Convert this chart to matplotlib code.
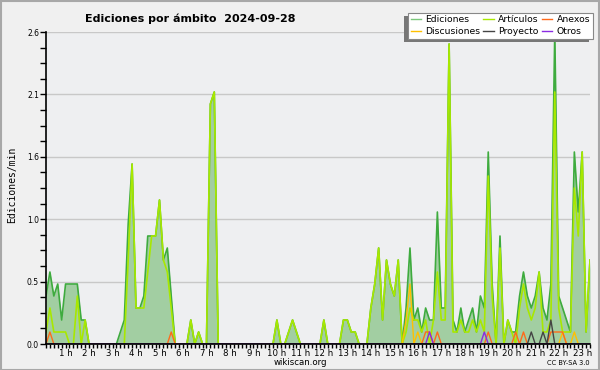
import numpy as np
import matplotlib
matplotlib.use("Agg")
import matplotlib.pyplot as plt
from matplotlib.lines import Line2D
from matplotlib.patches import Rectangle

# 10-minute bins, plotted at bin end (0:10 ... 23:20)
n_bins = 140
hour_labels = [f"{h} h" for h in range(1, 24)]
ytick_vals = [0.0, 0.52, 1.04, 1.56, 2.08, 2.6]
ytick_labels = ["0.0", "0.5", "1.0", "1.6", "2.1", "2.6"]

ediciones = [
    0.4, 0.6, 0.4, 0.5, 0.2, 0.5, 0.5, 0.5, 0.5, 0.2,
    0.2, 0, 0, 0, 0, 0, 0, 0, 0, 0.1,
    0.2, 1.0, 1.5, 0.3, 0.3, 0.4, 0.9, 0.9, 0.9, 1.2,
    0.7, 0.8, 0.4, 0, 0, 0, 0, 0.2, 0, 0.1,
    0, 0, 2.0, 2.1, 0, 0, 0, 0, 0, 0,
    0, 0, 0, 0, 0, 0, 0, 0, 0, 0.2,
    0, 0, 0.1, 0.2, 0.1, 0, 0, 0, 0, 0,
    0, 0.2, 0, 0, 0, 0, 0.2, 0.2, 0.1, 0.1,
    0, 0, 0, 0.3, 0.5, 0.8, 0.2, 0.7, 0.5, 0.4,
    0.7, 0, 0.3, 0.8, 0.2, 0.3, 0.1, 0.3, 0.2, 0.2,
    1.1, 0.3, 0.3, 2.5, 0.2, 0.1, 0.3, 0.1, 0.2, 0.3,
    0.1, 0.4, 0.3, 1.6, 0.5, 0, 0.9, 0, 0.2, 0.1,
    0.1, 0.4, 0.6, 0.4, 0.3, 0.4, 0.6, 0.3, 0.2, 0.5,
    2.6, 0.4, 0.3, 0.2, 0.1, 1.6, 1.1, 1.6, 0.1, 0.7,
]

articulos = [
    0.1, 0.3, 0.1, 0.1, 0.1, 0.1, 0, 0, 0.4, 0,
    0.2, 0, 0, 0, 0, 0, 0, 0, 0, 0,
    0, 0.7, 1.5, 0.3, 0.3, 0.3, 0.6, 0.9, 0.9, 1.2,
    0.7, 0.6, 0.3, 0, 0, 0, 0, 0.2, 0, 0.1,
    0, 0, 2.0, 2.1, 0, 0, 0, 0, 0, 0,
    0, 0, 0, 0, 0, 0, 0, 0, 0, 0.2,
    0, 0, 0.1, 0.2, 0.1, 0, 0, 0, 0, 0,
    0, 0.2, 0, 0, 0, 0, 0.2, 0.2, 0.1, 0.1,
    0, 0, 0, 0.3, 0.5, 0.8, 0.2, 0.7, 0.5, 0.4,
    0.7, 0, 0.1, 0.3, 0.2, 0.2, 0.1, 0.2, 0, 0.2,
    0.6, 0.2, 0.2, 2.5, 0.1, 0.1, 0.2, 0.1, 0.1, 0.2,
    0.1, 0.2, 0.1, 1.4, 0.4, 0, 0.8, 0, 0.2, 0.1,
    0, 0.3, 0.5, 0.3, 0.2, 0.3, 0.6, 0.1, 0.1, 0.2,
    2.1, 0.3, 0.1, 0.1, 0.1, 1.3, 0.9, 1.6, 0.1, 0.7,
]

# sparse series: bin index -> value
anexos_idx = [1, 32, 97, 98, 100, 113, 120, 122, 129, 130, 131, 132]
anexos_val = [0.1, 0.1, 0.1, 0.1, 0.1, 0.1, 0.1, 0.1, 0.1, 0.1, 0.1, 0.1]
discusiones_idx = [92, 93, 95, 132, 135]
discusiones_val = [0.2, 0.5, 0.1, 0.1, 0.1]
proyecto_idx = [124, 127, 129]
proyecto_val = [0.1, 0.1, 0.2]
otros_idx = [98, 112]
otros_val = [0.1, 0.1]


def expand(idx, val):
    arr = np.zeros(n_bins)
    arr[idx] = val
    return arr


t = (np.arange(n_bins) + 1) / 6.0

c_fill = "#a2cea2"
c_edit = "#3eab3e"
c_art = "#a8e800"
c_anx = "#ff6a1a"
c_disc = "#ffc000"
c_proy = "#444444"
c_otros = "#8a2be2"

fig = plt.figure(figsize=(6.0, 3.7), dpi=100, facecolor="#f0f0f0")
ax = fig.add_axes([46 / 600, 1 - 344 / 370, 544 / 600, 312 / 370])
ax.set_facecolor("#eeeff1")

ax.fill_between(t, ediciones, 0, color=c_fill, lw=0, zorder=2)
ax.plot(t, ediciones, color=c_edit, lw=1.2, zorder=3)
ax.plot(t, articulos, color=c_art, lw=1.2, zorder=4)
for idx, val, c in [(discusiones_idx, discusiones_val, c_disc),
                    (anexos_idx, anexos_val, c_anx),
                    (proyecto_idx, proyecto_val, c_proy),
                    (otros_idx, otros_val, c_otros)]:
    ax.plot(t, expand(idx, val), color=c, lw=1.0, zorder=5)

ax.set_xlim(t[0], t[-1])
ax.set_ylim(0, 2.6)

ax.set_yticks(ytick_vals)
ax.set_yticklabels(ytick_labels, fontsize=5.5)
ax.set_yticks(np.arange(0, 2.61, 0.13), minor=True)
ax.set_xticks(np.arange(1, 24))
ax.set_xticklabels(hour_labels, fontsize=6.2)
ax.set_xticks(t, minor=True)

ax.tick_params(axis="y", which="both", length=4, width=1, direction="out", pad=1)
ax.tick_params(axis="x", which="both", length=2.8, width=1, direction="out", pad=1)

ax.grid(axis="y", which="major", color="#c8c8c8", lw=1)
ax.set_axisbelow(True)
for s in ["top", "right"]:
    ax.spines[s].set_visible(False)
for s in ["left", "bottom"]:
    ax.spines[s].set_linewidth(1.2)
    ax.spines[s].set_zorder(6)

fig.text(85 / 600, 1 - 22 / 370, "Ediciones por ámbito  2024-09-28",
         fontsize=8, fontweight="bold", ha="left", va="baseline")
fig.text(12 / 600, 0.50, "Ediciones/min", rotation=90, fontsize=7,
         family="DejaVu Sans Mono", ha="center", va="center")
fig.text(300 / 600, 1 - 365 / 370, "wikiscan.org", fontsize=6.2,
         ha="center", va="baseline")
fig.text(590 / 600, 1 - 365 / 370, "CC BY-SA 3.0", fontsize=4.8,
         ha="right", va="baseline")

# outer border
fig.patches.append(Rectangle((0.001, 0.001), 0.997, 0.997, transform=fig.transFigure,
                             fill=False, edgecolor="#a8a8a8", lw=1.5, zorder=10))

# legend with left-bottom shadow
handles = [Line2D([], [], color="#7cc87c", lw=1), Line2D([], [], color=c_disc, lw=1),
           Line2D([], [], color=c_art, lw=1), Line2D([], [], color=c_proy, lw=1),
           Line2D([], [], color=c_anx, lw=1), Line2D([], [], color=c_otros, lw=1)]
labels = ["Ediciones", "Discusiones", "Artículos", "Proyecto", "Anexos", "Otros"]
leg = fig.legend(handles, labels, ncol=3, loc="upper right",
                 bbox_to_anchor=(593 / 600, 1 - 12.7 / 370),
                 fontsize=6.7, frameon=True, fancybox=False, shadow=False,
                 handlelength=1.1, handletextpad=0.5, columnspacing=0.3,
                 labelspacing=0.3, borderpad=0.3, borderaxespad=0)
leg.get_frame().set_edgecolor("#888888")
leg.get_frame().set_facecolor("white")
leg.get_frame().set_alpha(1)
leg.get_frame().set_linewidth(0.8)
leg.set_zorder(5)

fig.canvas.draw()
bb = leg.get_window_extent().transformed(fig.transFigure.inverted())
fig.patches.append(Rectangle((bb.x0 - 4 / 600, bb.y0 - 3 / 370), bb.width, bb.height,
                             transform=fig.transFigure, facecolor="#777777",
                             edgecolor="none", zorder=4))

fig.savefig("out.png", dpi=100, facecolor=fig.get_facecolor())
